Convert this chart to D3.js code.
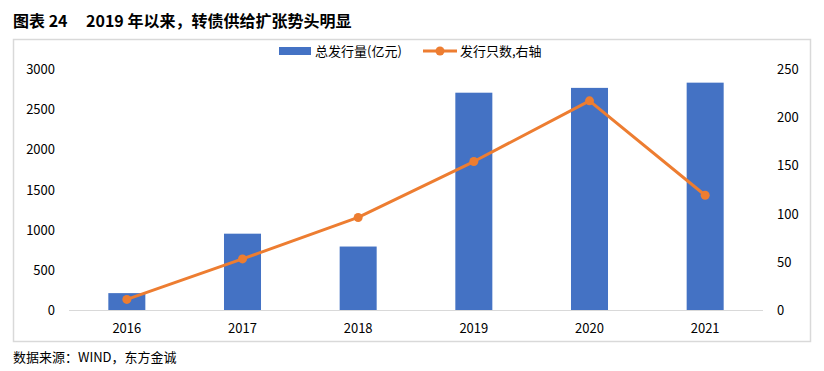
<!DOCTYPE html>
<html>
<head>
<meta charset="utf-8">
<script src="https://cdn.jsdelivr.net/npm/d3@7"></script>
<style>
  body { margin: 0; background: #fff; }
  svg text { font-family: "Noto Sans CJK SC", "Noto Sans", sans-serif; fill: #000; }
</style>
</head>
<body>
<div id="chart"></div>
<script>
var years = ['2016', '2017', '2018', '2019', '2020', '2021'];
var amount = [210, 950, 790, 2705, 2765, 2830];   // 总发行量(亿元)
var count = [11, 53, 96, 154, 217, 119];          // 发行只数, 右轴
var leftTicks = [0, 500, 1000, 1500, 2000, 2500, 3000];
var rightTicks = [0, 50, 100, 150, 200, 250];

(function() {
  var width = 824, height = 371;
  var svg = d3.select('#chart').append('svg')
    .attr('width', width).attr('height', height);

  // title
  var title = svg.append('text')
    .attr('x', 13).attr('y', 27)
    .style('font-size', '16px').style('font-weight', 'bold');
  title.append('tspan').text('图表 24');
  title.append('tspan').attr('x', 86).text('2019 年以来，转债供给扩张势头明显');

  // frame
  svg.append('rect')
    .attr('x', 13.5).attr('y', 39.5).attr('width', 797).attr('height', 302)
    .attr('fill', 'none').attr('stroke', '#d9d9d9').attr('stroke-width', 1.5);

  var x = d3.scaleBand().domain(years).range([69, 763]).paddingInner(0.68).paddingOuter(0.34);
  var yL = d3.scaleLinear().domain([0, 3000]).range([310, 69]);
  var yR = d3.scaleLinear().domain([0, 250]).range([310, 69]);

  // left axis labels
  svg.append('g').selectAll('text').data(leftTicks).enter().append('text')
    .attr('x', 55).attr('y', function(d) { return yL(d) + 5; })
    .attr('text-anchor', 'end').style('font-size', '13px')
    .text(function(d) { return d; });

  // right axis labels
  svg.append('g').selectAll('text').data(rightTicks).enter().append('text')
    .attr('x', 777).attr('y', function(d) { return yR(d) + 5; })
    .attr('text-anchor', 'start').style('font-size', '13px')
    .text(function(d) { return d; });

  // bars
  svg.append('g').selectAll('rect').data(amount).enter().append('rect')
    .attr('x', function(d, i) { return x(years[i]); })
    .attr('y', function(d) { return yL(d); })
    .attr('width', x.bandwidth())
    .attr('height', function(d) { return yL(0) - yL(d); })
    .attr('fill', '#4472c4');

  // baseline
  svg.append('line')
    .attr('x1', 69).attr('x2', 763).attr('y1', 310.5).attr('y2', 310.5)
    .attr('stroke', '#d9d9d9').attr('stroke-width', 1);

  // x labels
  svg.append('g').selectAll('text').data(years).enter().append('text')
    .attr('x', function(d) { return x(d) + x.bandwidth() / 2; })
    .attr('y', 333).attr('text-anchor', 'middle').style('font-size', '13px')
    .text(function(d) { return d; });

  // line
  var line = d3.line()
    .x(function(d, i) { return x(years[i]) + x.bandwidth() / 2; })
    .y(function(d) { return yR(d); });
  svg.append('path').datum(count)
    .attr('d', line).attr('fill', 'none')
    .attr('stroke', '#ed7d31').attr('stroke-width', 3).attr('stroke-linejoin', 'round');
  svg.append('g').selectAll('circle').data(count).enter().append('circle')
    .attr('cx', function(d, i) { return x(years[i]) + x.bandwidth() / 2; })
    .attr('cy', function(d) { return yR(d); })
    .attr('r', 4.5).attr('fill', '#ed7d31');

  // legend
  var lg = svg.append('g');
  lg.append('rect').attr('x', 279).attr('y', 47).attr('width', 32).attr('height', 8).attr('fill', '#4472c4');
  lg.append('text').attr('x', 315).attr('y', 56).style('font-size', '13px').text('总发行量(亿元)');
  lg.append('line').attr('x1', 423).attr('x2', 457).attr('y1', 51).attr('y2', 51)
    .attr('stroke', '#ed7d31').attr('stroke-width', 3);
  lg.append('circle').attr('cx', 440).attr('cy', 51).attr('r', 4.5).attr('fill', '#ed7d31');
  lg.append('text').attr('x', 460).attr('y', 56).style('font-size', '13px').text('发行只数,右轴');

  // source
  svg.append('text')
    .attr('x', 13).attr('y', 362).style('font-size', '13px')
    .text('数据来源：WIND，东方金诚');
})();
</script>
</body>
</html>
